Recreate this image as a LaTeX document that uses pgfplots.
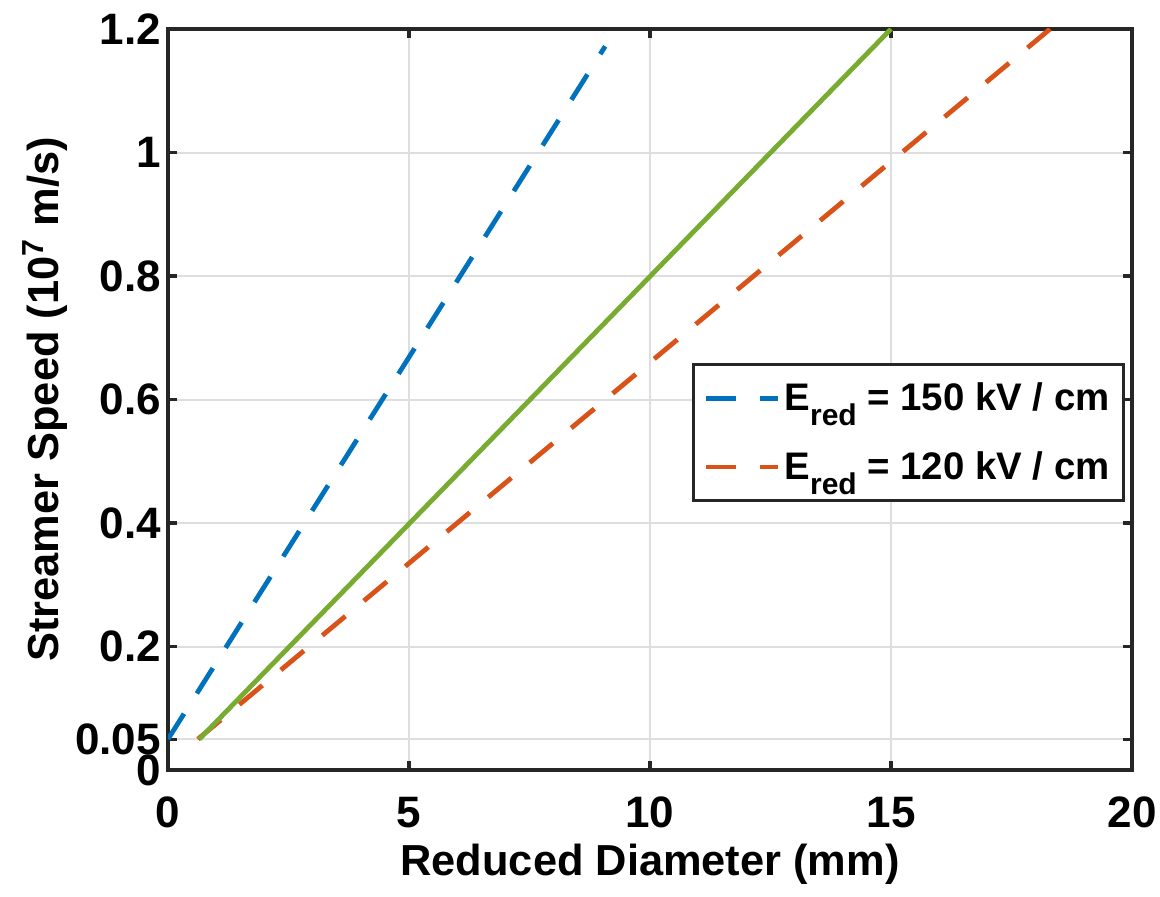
\documentclass[border=0pt]{standalone}
\usepackage{fontspec}
\setmainfont{Liberation Sans}
\usepackage{pgfplots}
\pgfplotsset{compat=1.18}
\definecolor{mblue}{HTML}{0072BD}
\definecolor{morange}{HTML}{D95319}
\definecolor{mgreen}{HTML}{77AC30}
\newcommand{\Ered}{E\raisebox{-7.5pt}{\fontsize{15}{15}\selectfont red}}
\begin{document}
\begin{tikzpicture}
\begin{axis}[
  scale only axis, width=482pt, height=370.5pt,
  xmin=0, xmax=20, ymin=0, ymax=1.2,
  xtick={0,5,10,15,20},
  ytick={0,0.05,0.2,0.4,0.6,0.8,1,1.2},
  yticklabels={0,0.05,0.2,0.4,0.6,0.8,1,1.2},
  /pgf/number format/assume math mode=true,
  ticklabel style={font=\fontsize{22}{26}\selectfont\bfseries},
  xticklabel style={yshift=-10pt},
  label style={font=\fontsize{21.7}{26}\selectfont\bfseries},
  xlabel={Reduced Diameter (mm)},
  ylabel={Streamer Speed (10\textsuperscript{7} m/s)},
  xlabel style={at={(axis description cs:0.5,-0.127)},anchor=center},
  ylabel style={at={(axis description cs:-0.128,0.5)},anchor=center},
  grid=major,
  major grid style={line width=1pt, color=black!13},
  axis line style={line width=1.6pt, black!85},
  tick style={line width=1.6pt, black!85},
  major tick length=4.5pt,
  legend style={at={(0.993,0.549)}, anchor=north east, draw=black!85,
    line width=1.5pt, font=\fontsize{19.2}{23}\selectfont\bfseries,
    row sep=15pt, inner xsep=5pt, inner ysep=7pt},
  legend cell align=left,
  legend image code/.code={\draw[#1] (0pt,0pt) -- (36pt,0pt);},
]
\addplot[mblue, line width=2.4pt, dash pattern=on 15pt off 12pt]
  coordinates {(0,0.05) (9.07,1.172)};
\addlegendentry{\Ered\ = 150 kV / cm}
\addplot[morange, line width=2.4pt, dash pattern=on 15pt off 12pt]
  coordinates {(0.62,0.05) (18.3,1.2)};
\addlegendentry{\Ered\ = 120 kV / cm}
\addplot[mgreen, line width=2.4pt, forget plot]
  coordinates {(0.65,0.05) (15,1.2)};
\coordinate (bl) at (rel axis cs:0,0);
\coordinate (tr) at (rel axis cs:1,1);
\end{axis}
\pgfresetboundingbox
\useasboundingbox ([xshift=-84pt,yshift=-63pt]bl) rectangle ([xshift=14pt,yshift=14.5pt]tr);
\end{tikzpicture}
\end{document}
